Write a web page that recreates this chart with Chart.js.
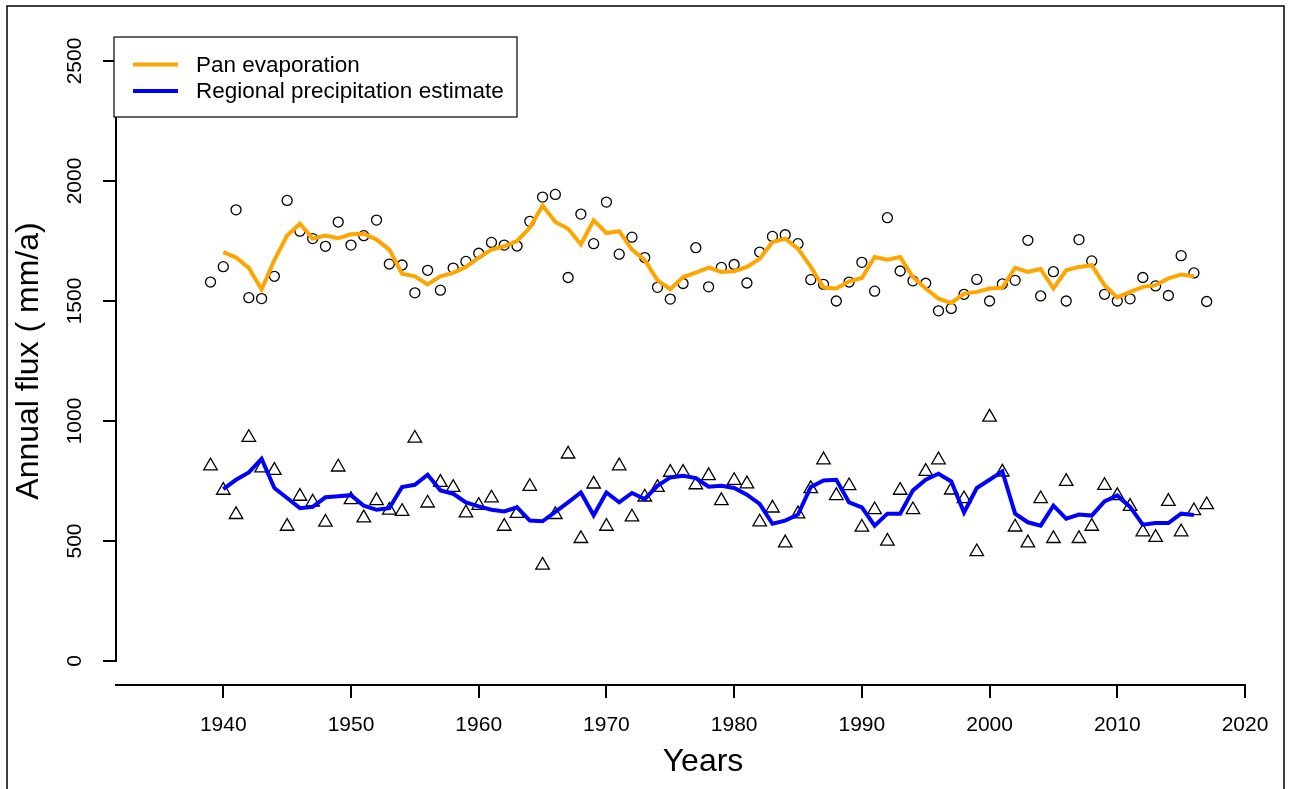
<!DOCTYPE html>
<html>
<head>
<meta charset="utf-8">
<script src="https://cdn.jsdelivr.net/npm/chart.js@4.4.0/dist/chart.umd.min.js"></script>
<style>
  body { margin: 0; background: #fff; }
  canvas { display: block; }
</style>
</head>
<body>
<canvas id="flux-chart" width="1290" height="789"></canvas>
<script>
const FONT = '"Liberation Sans", Arial, Helvetica, sans-serif';

const years = [
  1939, 1940, 1941, 1942, 1943, 1944, 1945, 1946, 1947, 1948,
  1949, 1950, 1951, 1952, 1953, 1954, 1955, 1956, 1957, 1958,
  1959, 1960, 1961, 1962, 1963, 1964, 1965, 1966, 1967, 1968,
  1969, 1970, 1971, 1972, 1973, 1974, 1975, 1976, 1977, 1978,
  1979, 1980, 1981, 1982, 1983, 1984, 1985, 1986, 1987, 1988,
  1989, 1990, 1991, 1992, 1993, 1994, 1995, 1996, 1997, 1998,
  1999, 2000, 2001, 2002, 2003, 2004, 2005, 2006, 2007, 2008,
  2009, 2010, 2011, 2012, 2013, 2014, 2015, 2016, 2017
];

// pan evaporation, yearly values (circles)
const panYearly = [
  1579, 1643, 1880, 1514, 1510, 1603, 1919, 1791, 1760, 1728,
  1829, 1733, 1772, 1837, 1654, 1650, 1534, 1628, 1545, 1637,
  1665, 1699, 1744, 1733, 1729, 1832, 1933, 1944, 1598, 1862,
  1739, 1912, 1695, 1766, 1681, 1557, 1508, 1573, 1722, 1559,
  1640, 1652, 1575, 1704, 1769, 1776, 1739, 1589, 1569, 1500,
  1579, 1661, 1541, 1847, 1625, 1584, 1574, 1459, 1469, 1528,
  1590, 1500, 1571, 1586, 1753, 1521, 1622, 1500, 1756, 1667,
  1528, 1500, 1509, 1598, 1563, 1523, 1689, 1617, 1498
];

// pan evaporation, smoothed line
const panSmooth = [
  null, 1704, 1681, 1638, 1548, 1670, 1773, 1822, 1760, 1773,
  1762, 1778, 1780, 1756, 1714, 1614, 1603, 1569, 1603, 1617,
  1642, 1681, 1714, 1728, 1750, 1805, 1898, 1829, 1801, 1736,
  1836, 1783, 1791, 1714, 1670, 1586, 1549, 1600, 1618, 1639,
  1621, 1624, 1642, 1676, 1746, 1760, 1718, 1642, 1556, 1552,
  1582, 1596, 1683, 1672, 1683, 1600, 1552, 1510, 1492, 1531,
  1538, 1552, 1556, 1638, 1621, 1633, 1552, 1628, 1642, 1649,
  1566, 1515, 1538, 1559, 1566, 1594, 1610, 1603, null
];

// regional precipitation, yearly values (triangles)
const rainYearly = [
  813, 711, 610, 931, 804, 794, 561, 686, 662, 578,
  808, 672, 596, 668, 628, 623, 928, 658, 744, 723,
  617, 648, 679, 561, 615, 727, 399, 610, 862, 510,
  737, 561, 813, 600, 683, 723, 786, 786, 734, 772,
  668, 752, 738, 579, 637, 492, 613, 718, 838, 689,
  730, 557, 630, 499, 711, 630, 790, 838, 712, 676,
  455, 1016, 787, 558, 492, 676, 510, 748, 510, 561,
  731, 689, 644, 538, 515, 665, 538, 626, 651
];

// regional precipitation estimate, smoothed line
const rainSmooth = [
  null, 716, 755, 786, 842, 721, 679, 637, 642, 682,
  686, 691, 647, 630, 637, 725, 734, 776, 711, 697,
  661, 644, 630, 623, 640, 585, 582, 621, 661, 702,
  607, 702, 661, 700, 675, 730, 765, 772, 762, 726,
  730, 721, 693, 655, 572, 585, 610, 725, 752, 755,
  661, 640, 564, 614, 614, 711, 755, 780, 748, 619,
  721, 755, 790, 614, 578, 564, 647, 593, 610, 606,
  665, 690, 642, 568, 575, 575, 614, 608, null
];

const xTicks = [1940, 1950, 1960, 1970, 1980, 1990, 2000, 2010, 2020];
const yTicks = [0, 500, 1000, 1500, 2000, 2500];

const seriesNames = ['Pan evaporation', 'Regional precipitation estimate'];
const seriesColors = ['#FFA500', '#0000FF'];

function toPoints(values) {
  const pts = [];
  values.forEach((v, i) => {
    if (v !== null) pts.push({ x: years[i], y: v });
  });
  return pts;
}

const decorations = {
  id: 'decorations',
  afterDraw(chart) {
    const { ctx, chartArea } = chart;
    const y = chart.scales.y;
    ctx.save();

    // outer frame
    ctx.strokeStyle = '#000';
    ctx.lineWidth = 1.5;
    ctx.beginPath();
    ctx.moveTo(7, 800);
    ctx.lineTo(7, 6);
    ctx.lineTo(1284, 6);
    ctx.lineTo(1284, 800);
    ctx.stroke();

    // y axis line, only between first and last tick
    ctx.lineWidth = 2;
    ctx.beginPath();
    ctx.moveTo(chartArea.left, y.getPixelForValue(yTicks[0]) + 1);
    ctx.lineTo(chartArea.left, y.getPixelForValue(yTicks[yTicks.length - 1]) - 1);
    ctx.stroke();

    // rotated y tick labels
    ctx.fillStyle = '#000';
    ctx.font = '21px ' + FONT;
    ctx.textAlign = 'center';
    ctx.textBaseline = 'middle';
    yTicks.forEach(v => {
      ctx.save();
      ctx.translate(75, y.getPixelForValue(v));
      ctx.rotate(-Math.PI / 2);
      ctx.fillText(String(v), 0, 0);
      ctx.restore();
    });

    // axis titles
    ctx.font = '32px ' + FONT;
    ctx.fillText('Years', 703, 762);
    ctx.save();
    ctx.translate(29, (chartArea.top + chartArea.bottom) / 2);
    ctx.rotate(-Math.PI / 2);
    ctx.fillText('Annual flux ( mm/a)', 0, 0);
    ctx.restore();

    // legend box
    ctx.fillStyle = '#fff';
    ctx.fillRect(114, 37, 403, 80);
    ctx.strokeStyle = '#000';
    ctx.lineWidth = 1.2;
    ctx.strokeRect(114, 37, 403, 80);
    ctx.font = '22.5px ' + FONT;
    ctx.textAlign = 'left';
    const rows = [64.5, 91];
    seriesNames.forEach((name, i) => {
      ctx.strokeStyle = seriesColors[i];
      ctx.lineWidth = 4;
      ctx.beginPath();
      ctx.moveTo(133, rows[i]);
      ctx.lineTo(178, rows[i]);
      ctx.stroke();
      ctx.fillStyle = '#000';
      ctx.fillText(name, 196, rows[i] + 1);
    });

    ctx.restore();
  }
};

new Chart(document.getElementById('flux-chart'), {
  type: 'scatter',
  data: {
    datasets: [
      {
        label: seriesNames[0],
        data: toPoints(panSmooth),
        showLine: true,
        borderColor: seriesColors[0],
        borderWidth: 4,
        pointRadius: 0,
        tension: 0,
        order: 0
      },
      {
        label: seriesNames[1],
        data: toPoints(rainSmooth),
        showLine: true,
        borderColor: seriesColors[1],
        borderWidth: 4,
        pointRadius: 0,
        tension: 0,
        order: 0
      },
      {
        label: 'Pan evaporation (yearly)',
        data: toPoints(panYearly),
        showLine: false,
        pointStyle: 'circle',
        pointRadius: 5,
        pointBorderWidth: 1.3,
        pointBorderColor: '#000',
        pointBackgroundColor: 'rgba(0,0,0,0)',
        order: 1
      },
      {
        label: 'Regional precipitation (yearly)',
        data: toPoints(rainYearly),
        showLine: false,
        pointStyle: 'triangle',
        pointRadius: 7.8,
        pointBorderWidth: 1.3,
        pointBorderColor: '#000',
        pointBackgroundColor: 'rgba(0,0,0,0)',
        order: 1
      }
    ]
  },
  options: {
    responsive: false,
    animation: false,
    events: [],
    layout: { padding: { top: 37, right: 45, left: 0, bottom: 0 } },
    plugins: {
      legend: { display: false },
      tooltip: { enabled: false }
    },
    scales: {
      x: {
        type: 'linear',
        min: 1931.6,
        max: 2020,
        afterBuildTicks: s => { s.ticks = xTicks.map(v => ({ value: v })); },
        afterFit: s => { s.height = 104; },
        grid: { drawOnChartArea: false, tickLength: 13, color: '#000', lineWidth: 2 },
        border: { display: true, color: '#000', width: 2 },
        ticks: {
          color: '#000',
          font: { family: FONT, size: 21 },
          padding: 15,
          maxRotation: 0,
          autoSkip: false,
          callback: v => String(v)
        }
      },
      y: {
        type: 'linear',
        min: -100,
        max: 2600,
        afterBuildTicks: s => { s.ticks = yTicks.map(v => ({ value: v })); },
        afterFit: s => { s.width = 116; },
        grid: { drawOnChartArea: false, tickLength: 13, color: '#000', lineWidth: 2 },
        border: { display: false },
        ticks: { display: false }
      }
    }
  },
  plugins: [decorations]
});
</script>
</body>
</html>
